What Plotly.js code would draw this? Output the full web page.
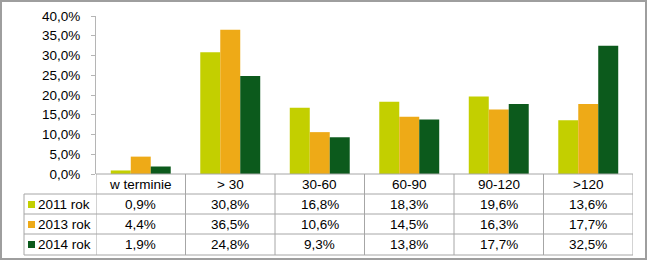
<!DOCTYPE html>
<html>
<head>
<meta charset="utf-8">
<script src="https://cdn.plot.ly/plotly-3.0.1.min.js"></script>
<style>
  html, body { margin: 0; padding: 0; background: #fff; }
  #chart { width: 650px; height: 262px; }
</style>
</head>
<body>
<div id="chart"></div>
<script>
// ---- data ----
const categories = ["w terminie", "> 30", "30-60", "60-90", "90-120", ">120"];
const seriesNames = ["2011 rok", "2013 rok", "2014 rok"];
const values2011 = [0.9, 30.8, 16.8, 18.3, 19.6, 13.6];
const values2013 = [4.4, 36.5, 10.6, 14.5, 16.3, 17.7];
const values2014 = [1.9, 24.8, 9.3, 13.8, 17.7, 32.5];
const yTicks = [0, 5, 10, 15, 20, 25, 30, 35, 40];

// ---- styling ----
const colors = ["#c3cf00", "#eeaa17", "#0c5a1c"];
const FONT = "Liberation Sans, Arial, sans-serif";
const FS = 13.5;
const W = 650, H = 262;
const L = 96, R = 633, T = 16, B = 174;
const px2x = p => (p - L) / (R - L);
const px2y = p => (B - p) / (B - T);
const fmt = v => v.toFixed(1).replace(".", ",") + "%";

const allValues = [values2011, values2013, values2014];

const traces = allValues.map((vals, i) => ({
  type: "bar",
  name: seriesNames[i],
  x: categories,
  y: vals,
  marker: { color: colors[i], line: { width: 0 } },
  hoverinfo: "skip"
}));

const gridColor = "#a6a6a6";
const shapes = [];
const annotations = [];

// row boundaries (pixels)
const rowTop = [174, 194, 214, 234];
const rowBottom = 255;
const leftEdge = 24;

// horizontal lines
shapes.push({ type: "line", xref: "paper", yref: "paper",
  x0: 0, x1: 1, y0: px2y(174), y1: px2y(174), line: { color: gridColor, width: 1 } });
[194, 214, 234, rowBottom].forEach(p => shapes.push({
  type: "line", xref: "paper", yref: "paper",
  x0: px2x(leftEdge), x1: 1, y0: px2y(p), y1: px2y(p),
  line: { color: gridColor, width: 1 } }));
// vertical lines
shapes.push({ type: "line", xref: "paper", yref: "paper",
  x0: px2x(leftEdge), x1: px2x(leftEdge), y0: px2y(194), y1: px2y(rowBottom),
  line: { color: gridColor, width: 1 } });
for (let k = 0; k <= categories.length; k++) {
  shapes.push({ type: "line", xref: "x", yref: "paper",
    x0: k - 0.5, x1: k - 0.5, y0: px2y(174), y1: px2y(rowBottom),
    line: { color: gridColor, width: 1 } });
}
// outer frame
shapes.push({ type: "rect", xref: "paper", yref: "paper",
  x0: px2x(1), x1: px2x(646), y0: px2y(1), y1: px2y(259),
  line: { color: "#9e9e9e", width: 2 }, fillcolor: "rgba(0,0,0,0)" });

// header row: category labels
categories.forEach((c, k) => annotations.push({
  xref: "x", yref: "paper", x: k, y: px2y(184.5), text: c, showarrow: false,
  xanchor: "center", yanchor: "middle", font: { family: FONT, size: FS, color: "#000" }
}));

// data rows
allValues.forEach((vals, i) => {
  const yc = px2y(rowTop[i + 1] + 10.5);
  // legend key
  shapes.push({ type: "rect", xref: "paper", yref: "paper",
    x0: px2x(28), x1: px2x(35), y0: yc - 3.5 / (B - T), y1: yc + 3.5 / (B - T),
    line: { width: 0 }, fillcolor: colors[i] });
  annotations.push({ xref: "paper", yref: "paper", x: px2x(35.5), y: yc,
    text: seriesNames[i], showarrow: false, xanchor: "left", yanchor: "middle",
    font: { family: FONT, size: FS, color: "#000" } });
  vals.forEach((v, k) => annotations.push({
    xref: "x", yref: "paper", x: k, y: yc, text: fmt(v), showarrow: false,
    xanchor: "center", yanchor: "middle", font: { family: FONT, size: FS, color: "#000" }
  }));
});

const layout = {
  width: W, height: H,
  margin: { l: L, r: W - R, t: T, b: H - B, pad: 0 },
  paper_bgcolor: "#fff", plot_bgcolor: "#fff",
  separators: ", ",
  showlegend: false,
  barmode: "group",
  bargap: 0.33,
  bargroupgap: 0,
  font: { family: FONT, size: FS, color: "#000" },
  xaxis: {
    type: "category", range: [-0.5, categories.length - 0.5],
    showticklabels: false, ticks: "", showline: false, showgrid: false, zeroline: false,
    fixedrange: true
  },
  yaxis: {
    range: [0, 40], tickvals: yTicks, ticktext: yTicks.map(v => fmt(v)),
    showline: true, linecolor: "#b5b5b5", linewidth: 1,
    ticks: "outside", ticklen: 4, tickcolor: "#b5b5b5",
    showgrid: false, zeroline: false, ticklabelstandoff: 8,
    tickfont: { family: FONT, size: FS, color: "#000" },
    fixedrange: true
  },
  shapes: shapes,
  annotations: annotations
};

Plotly.newPlot("chart", traces, layout, { displayModeBar: false, staticPlot: true });
</script>
</body>
</html>
